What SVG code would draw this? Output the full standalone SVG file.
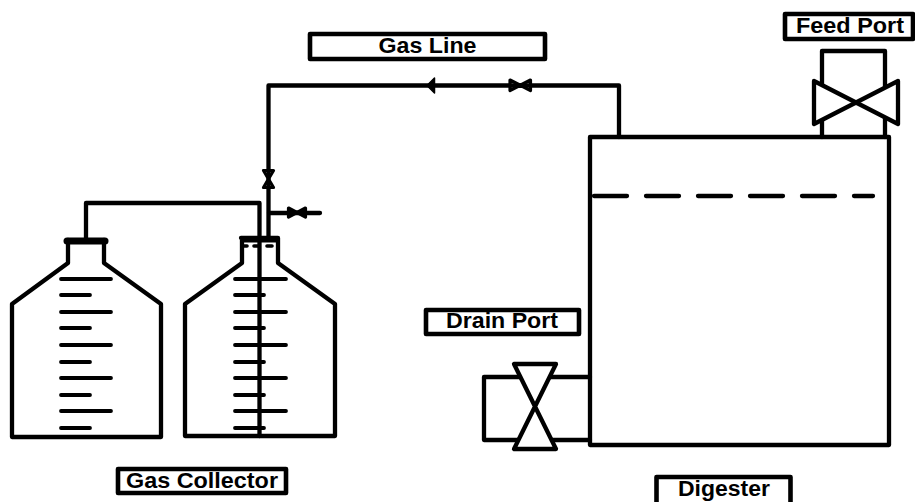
<svg xmlns="http://www.w3.org/2000/svg" width="915" height="502" viewBox="0 0 915 502">
<style>
.s{fill:none;stroke:#000;stroke-width:4.300;stroke-linejoin:round;stroke-linecap:round}
.t{fill:none;stroke:#000;stroke-width:3.800;stroke-linecap:round}
.m{fill:none;stroke:#000;stroke-width:3.200;stroke-linejoin:round}
.v{fill:#fff;stroke:#000;stroke-width:4.300;stroke-linejoin:round}
.l{fill:#fff;stroke:#000;stroke-width:4.600;stroke-linejoin:round}
text{font-family:"Liberation Sans",Arial,sans-serif;font-weight:bold;font-size:22px;fill:#000;text-anchor:middle}
</style>
<rect width="915" height="502" fill="#fff"/>
<g id="bottle-left">
<path class="s" d="M68 240V263L12 304V437H161V304L104 263V240"/>
<path d="M67 241H105" fill="none" stroke="#000" stroke-width="7" stroke-linecap="round"/>
<path class="t" d="M61 279H111M61 295H90M61 312H111M61 328H90M61 345H111M61 362H90M61 378H111M61 395H90M61 411H111M61 428H90"/>
</g>
<g id="bottle-right">
<path class="s" d="M242 238V263L185 304V436H335V304L278 263V238H241"/>
<path d="M241 240H279" fill="none" stroke="#000" stroke-width="5"/>
<path class="t" d="M235 279H286M235 295H264M235 312H286M235 328H264M235 345H286M235 362H264M235 378H286M235 395H264M235 411H286M235 428H264"/>
<path d="M243 246H247M254 246H258M267 246H272" fill="none" stroke="#000" stroke-width="3.600" stroke-linecap="round"/>
</g>
<g id="digester">
<rect class="s" x="590" y="137" width="299" height="308"/>
<path d="M593 196H873" fill="none" stroke="#000" stroke-width="4.300" stroke-dasharray="33 19" stroke-dashoffset="-1" stroke-linecap="round"/>
</g>
<g id="connectors">
<path class="s" d="M86 241V203H259.500V436"/>
<path class="s" d="M268.500 238V85.500H619V137"/>
<path class="s" d="M269 213H320"/>
<path d="M427 85.500L434.500 78V93Z" fill="#000" stroke="#000" stroke-width="1.500" stroke-linejoin="round"/>
</g>
<g id="valve-gas-line">
<path class="m" d="M510 80L530.500 90.500V80L510 90.500Z" fill="#fff"/>
</g>
<g id="valve-vertical">
<path class="m" d="M263.500 170.500H273.500L263.500 187.500H273.500Z"/>
</g>
<g id="valve-vent">
<path class="m" d="M288.500 208L305.500 217V208L288.500 217Z"/>
</g>
<g id="feed-valve">
<path class="s" d="M822 137V51H885V137"/>
<path class="v" d="M814 81L898 124V81L814 124Z"/>
</g>
<g id="drain-valve">
<path class="s" d="M590 377H484V440H590"/>
<path class="v" d="M514 364H556L514 449H556Z"/>
</g>
<g id="label-gas-line">
<rect class="l" x="310" y="34" width="235" height="25"/>
<text x="427.500" y="53" textLength="98" lengthAdjust="spacingAndGlyphs">Gas Line</text>
</g>
<g id="label-feed-port">
<rect class="l" x="785" y="14" width="128" height="25"/>
<text x="850" y="33" textLength="108" lengthAdjust="spacingAndGlyphs">Feed Port</text>
</g>
<g id="label-drain-port">
<rect class="l" x="426" y="310" width="153" height="24"/>
<text x="502" y="328" textLength="112" lengthAdjust="spacingAndGlyphs">Drain Port</text>
</g>
<g id="label-gas-collector">
<rect class="l" x="118" y="469" width="168" height="24"/>
<text x="202" y="488" textLength="152" lengthAdjust="spacingAndGlyphs">Gas Collector</text>
</g>
<g id="label-digester">
<rect class="l" x="656.500" y="477" width="134" height="34"/>
<text x="724" y="496" textLength="92" lengthAdjust="spacingAndGlyphs">Digester</text>
</g>
</svg>
